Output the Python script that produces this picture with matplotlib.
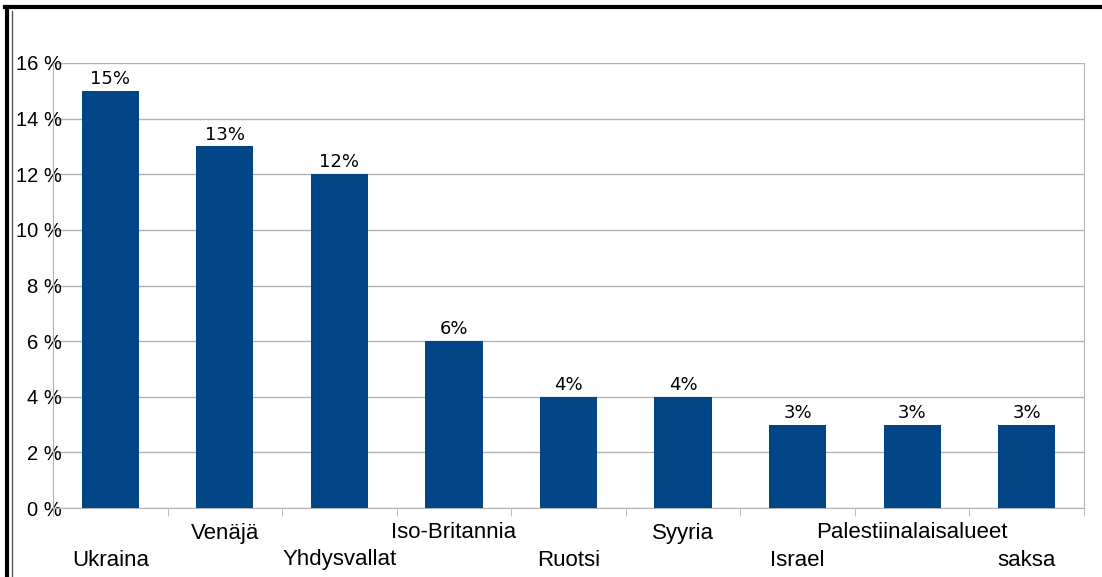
import matplotlib.pyplot as plt
from matplotlib.lines import Line2D
import numpy as np

# data
countries = ["Ukraina", "Venäjä", "Yhdysvallat", "Iso-Britannia", "Ruotsi",
             "Syyria", "Israel", "Palestiinalaisalueet", "saksa"]
shares = [15, 13, 12, 6, 4, 4, 3, 3, 3]
y_ticks = [0, 2, 4, 6, 8, 10, 12, 14, 16]

W, H = 1102, 577
fig = plt.figure(figsize=(W / 100, H / 100), dpi=100)
ax = fig.add_axes([53 / W, 1 - 508 / H, (1084 - 53) / W, (508 - 63) / H])

x = np.arange(len(countries))
bars = ax.bar(x, shares, width=0.5, color="#004586", zorder=3)

ax.set_xlim(-0.5, len(countries) - 0.5)
ax.set_ylim(0, 16)
ax.set_yticks(y_ticks)
ax.set_yticklabels([f"{t} %" for t in y_ticks], fontfamily="Liberation Sans", fontsize=14.5)
# labels run past the axis line, as in the original
ax.tick_params(axis="y", length=0, pad=-6.5)
ax.grid(axis="y", color="#b3b3b3", linewidth=1, zorder=0)

# category labels, staggered in two rows
ax.set_xticks([])
ax.set_xticks(np.arange(len(countries) + 1) - 0.5, minor=True)
ax.tick_params(axis="x", which="minor", length=6, color="#b3b3b3", direction="out")
for i, name in enumerate(countries):
    off = -52 if i % 2 == 0 else -25
    ax.annotate(name, (i, 0), xycoords="data", xytext=(0, off * 0.72),
                textcoords="offset points", ha="center", va="center",
                fontfamily="Liberation Sans", fontsize=16)

for b, v in zip(bars, shares):
    ax.annotate(f"{v}%", (b.get_x() + b.get_width() / 2, v), xytext=(0, 2),
                textcoords="offset points", ha="center", va="bottom",
                fontfamily="DejaVu Sans", fontsize=13)

for s in ["left", "bottom", "right"]:
    ax.spines[s].set_color("#b3b3b3")
ax.spines["top"].set_visible(False)

# outer frame
fig.add_artist(Line2D([5 / W, 1], [1 - 7 / H, 1 - 7 / H], color="black", linewidth=3))
fig.add_artist(Line2D([6.5 / W, 6.5 / W], [0, 1 - 7 / H], color="black", linewidth=3))
fig.add_artist(Line2D([11.5 / W, 11.5 / W], [0, 1 - 11 / H], color="#555555", linewidth=1))

fig.savefig("out.png", dpi=100)
